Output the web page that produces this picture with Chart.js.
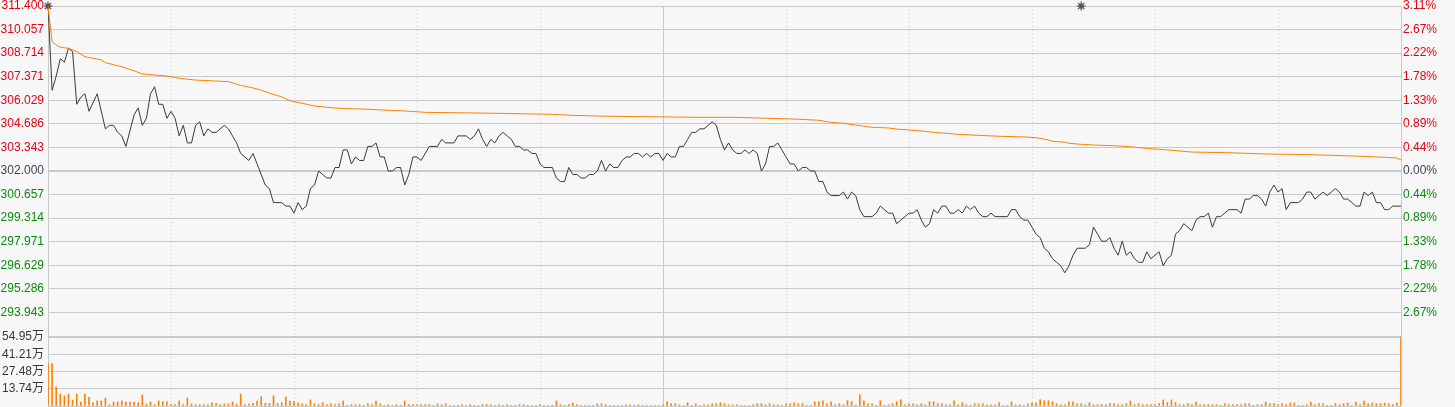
<!DOCTYPE html>
<html><head><meta charset="utf-8">
<script src="https://cdn.jsdelivr.net/npm/chart.js@4.4.1/dist/chart.umd.min.js"></script>
<style>
html,body{margin:0;padding:0;background:#f7f7f7;width:1455px;height:407px;overflow:hidden;}
#wrap{position:relative;width:1455px;height:407px;background:#f7f7f7;}
#pc{position:absolute;left:0;top:0;}
#vc{position:absolute;left:0;top:330px;}
</style></head><body>
<div id="wrap">
<canvas id="pc" width="1455" height="337"></canvas>
<canvas id="vc" width="1455" height="77"></canvas>
</div>
<script>
// ---- data ----
const priceTicks = [311.4, 310.057, 308.714, 307.371, 306.029, 304.686, 303.343, 302.0, 300.657, 299.314, 297.971, 296.629, 295.286, 293.943, 292.6];
const priceLabels = ['311.400','310.057','308.714','307.371','306.029','304.686','303.343','302.000','300.657','299.314','297.971','296.629','295.286','293.943',''];
const pctLabels = ['3.11%','2.67%','2.22%','1.78%','1.33%','0.89%','0.44%','0.00%','0.44%','0.89%','1.33%','1.78%','2.22%','2.67%',''];
const volTicks = [0, 13.74, 27.48, 41.21, 54.95];
const volLabels = ['', '13.74万', '27.48万', '41.21万', '54.95万'];
const timeTicks = [0, 30, 60, 90, 120, 150, 180, 210, 240, 270, 300, 330];

const priceMin = [0,1,2,3,4,5,6,7,8,9,10,12,14,15,16,17,18,19,21,22,23,24,25,26,27,28,29,30,31,32,33,34,35,36,37,38,39,40,41,43,44,45,46,47,48,49,50,51,52,53,54,55,57,58,59,60,61,62,63,64,65,66,67,68,69,70,71,72,73,74,75,76,77,78,79,80,81,82,83,84,85,86,87,88,89,90,91,92,93,95,96,97,99,100,102,103,104,105,106,107,108,109,110,111,112,113,114,115,116,117,118,119,120,121,123,124,125,126,127,128,129,130,131,132,133,134,135,136,137,138,139,140,141,142,143,144,145,146,147,148,149,150,151,152,153,154,155,156,157,158,159,160,161,162,163,164,165,166,167,168,169,170,171,172,173,174,175,176,177,178,179,180,181,182,183,184,185,186,187,188,189,190,191,193,194,195,196,197,198,199,201,202,203,204,205,206,207,208,209,210,211,212,213,214,215,216,217,218,219,220,221,222,223,224,225,226,227,228,229,230,231,234,235,236,237,238,239,240,241,242,243,244,245,246,247,248,249,250,251,253,254,255,256,257,258,259,260,261,262,263,264,265,266,267,268,269,270,271,272,273,274,275,276,277,278,279,280,281,282,283,284,285,286,287,288,290,291,292,293,294,295,296,297,298,299,300,301,302,303,305,306,307,308,309,310,311,312,313,314,315,316,317,318,319,320,321,322,323,324,325,326,327,328,330];
const priceVal = [311.4,306.6,307.4,308.4,308.2,309.0,308.8,305.8,306.2,306.4,305.4,306.4,304.4,304.6,304.6,304.2,304.0,303.4,305.2,305.6,304.6,305.0,306.4,306.8,305.8,305.8,305.0,305.4,305.0,304.0,304.6,303.6,303.6,304.6,304.8,304.0,304.4,304.2,304.2,304.6,304.4,304.0,303.6,303.0,302.8,302.6,303.0,302.4,301.8,301.2,301.0,300.2,300.2,300.0,300.0,299.6,300.2,299.8,300.0,301.0,301.2,302.0,301.8,301.6,301.6,302.2,302.2,303.2,303.2,302.4,302.8,302.6,302.6,303.4,303.4,303.6,302.8,302.8,302.0,302.0,302.2,302.2,301.2,301.8,302.8,302.8,302.6,303.0,303.4,303.4,303.8,303.6,303.6,304.0,304.0,303.8,304.0,304.4,303.8,303.4,303.8,303.6,304.0,304.2,304.0,303.8,303.4,303.4,303.2,303.2,303.0,303.0,302.4,302.2,302.2,301.6,301.4,301.4,302.2,301.8,301.8,301.6,301.6,301.8,301.8,302.0,302.6,302.0,302.4,302.2,302.2,302.6,302.8,302.8,303.0,303.0,302.8,303.0,302.8,303.0,303.0,302.6,303.0,302.8,302.8,303.4,303.4,303.8,304.2,304.2,304.4,304.4,304.6,304.8,304.6,303.8,303.2,303.6,303.2,303.0,303.0,303.2,303.0,303.2,303.0,302.0,302.4,303.4,303.4,303.6,303.2,302.8,302.4,302.4,302.0,302.2,302.2,302.0,302.0,301.4,301.4,300.8,300.6,300.6,300.8,300.4,300.8,300.6,299.8,299.4,299.4,299.6,300.0,299.8,299.6,299.6,299.0,299.2,299.4,299.6,299.6,299.8,299.2,298.8,299.0,299.8,299.6,300.0,300.0,299.6,299.6,299.8,299.6,300.0,299.8,300.0,299.6,299.4,299.4,299.6,299.4,299.4,299.8,299.8,299.4,299.2,299.2,298.8,298.4,298.2,297.6,297.4,297.0,296.8,296.6,296.2,296.6,297.2,297.6,297.6,297.8,298.8,298.4,298.0,298.0,298.2,297.6,297.2,298.0,297.2,297.4,297.0,296.8,296.8,297.4,297.0,297.2,297.4,296.6,297.0,297.2,298.4,298.6,299.0,298.8,298.6,299.2,299.4,299.4,299.6,298.8,299.4,299.4,299.6,299.8,299.8,299.6,300.4,300.4,300.6,300.6,300.4,300.0,300.8,301.2,300.8,301.0,299.8,300.2,300.2,300.4,300.8,300.8,300.4,300.6,300.8,300.6,300.8,301.0,300.8,300.4,300.4,300.2,300.0,300.0,300.8,300.6,300.8,300.2,300.2,299.8,299.8,300.0,300.0];

const avgMin = [0,1,2,3,5,7,9,13,14,18,21,23,29,32,36,44,47,50,52,54,57,59,62,65,68,71,77,81,87,92,109,123,128,136,151,157,167,176,183,188,191,194,197,199,201,205,207,210,214,216,219,222,227,232,238,241,244,245,248,249,252,255,260,264,267,273,279,288,297,308,319,326,329,330];
const avgVal = [311.40,309.37,309.18,309.05,308.99,308.80,308.51,308.33,308.17,307.94,307.71,307.53,307.41,307.28,307.18,307.09,306.88,306.73,306.61,306.43,306.23,306.00,305.86,305.70,305.63,305.57,305.53,305.48,305.42,305.34,305.29,305.23,305.17,305.12,305.08,305.06,305.06,305.00,304.95,304.89,304.77,304.72,304.62,304.55,304.49,304.45,304.39,304.34,304.26,304.20,304.15,304.09,304.03,303.98,303.94,303.90,303.77,303.69,303.64,303.58,303.52,303.48,303.44,303.38,303.31,303.20,303.08,303.04,302.97,302.93,302.85,302.78,302.74,302.63];

const volumes = [
33.7,33.7,15.1,9.5,8.0,9.5,4.8,9.5,3.2,9.5,
6.9,2.6,4.0,4.0,6.4,1.1,3.2,3.2,4.0,3.2,
3.2,3.2,2.6,8.8,1.6,3.2,1.1,4.0,3.5,3.5,
1.1,1.1,4.0,1.1,6.4,1.6,1.1,1.1,1.1,1.1,
2.6,2.1,1.1,1.6,1.6,3.2,1.6,9.5,1.1,1.6,
2.1,4.0,7.4,2.1,2.1,8.0,2.1,2.6,7.2,4.0,
3.6,2.6,1.8,1.1,4.8,1.8,1.1,2.6,1.1,1.8,
1.1,1.8,4.0,0.5,1.1,1.1,1.1,0.5,1.8,1.1,
4.0,1.8,0.5,1.1,0.5,1.1,0.5,4.0,1.1,1.1,
1.1,1.1,1.1,1.1,0.5,1.8,1.1,1.8,0.5,0.5,
0.5,1.1,0.5,1.1,0.5,0.5,1.1,1.1,1.1,0.5,
1.1,0.5,1.1,0.5,0.5,1.1,1.1,0.5,0.5,0.5,
1.1,0.5,0.3,0.5,4.0,1.1,0.5,1.1,2.3,1.1,
0.5,0.5,0.5,0.5,1.8,1.8,1.1,0.5,0.3,0.3,
0.3,1.0,1.0,0.3,1.0,0.3,0.3,0.3,0.3,0.3,
1.0,3.4,1.8,1.8,1.0,0.3,2.6,0.3,1.8,0.3,
1.0,1.0,1.8,1.8,2.6,1.8,1.0,1.0,1.0,0.3,
0.3,0.3,1.0,1.8,1.8,1.0,1.8,1.0,1.0,0.3,
1.8,1.8,2.6,1.8,1.8,0.3,0.3,3.4,3.4,4.2,
1.8,3.4,1.0,1.8,1.0,4.2,3.4,0.3,9.0,4.2,
1.8,1.8,0.3,4.2,0.3,1.0,1.8,3.4,5.0,1.0,
1.8,1.8,1.0,1.8,1.0,3.4,3.4,1.8,1.8,1.0,
1.0,4.2,1.0,2.6,1.0,0.3,1.8,1.8,1.8,1.0,
1.0,1.0,2.6,0.3,0.3,3.4,1.0,1.0,0.3,1.8,
2.6,2.6,5.0,4.2,4.2,3.4,1.8,1.0,1.0,3.4,
3.4,1.8,1.8,1.0,2.6,1.0,1.1,1.1,1.1,1.9,
1.9,1.1,1.1,1.9,4.0,1.1,1.9,1.1,1.1,1.1,
1.1,1.9,4.8,2.7,4.8,2.7,1.1,1.1,1.9,1.1,
3.2,1.1,1.1,1.1,1.1,1.1,0.5,1.9,1.1,1.1,
1.1,1.1,1.9,1.9,0.5,1.1,1.1,3.2,1.9,1.9,
1.1,1.9,1.1,2.4,2.4,0.5,0.5,1.1,3.2,1.1,
1.9,1.9,0.5,0.5,1.9,1.1,1.9,2.4,0.5,3.2,
1.1,4.0,1.9,2.4,1.9,1.9,2.4,1.9,1.1,2.4,
54.95];

const markerMin = [0, 252];
const markerPrice = 311.4;

// ---- style ----
const FONT = "'Liberation Sans', Arial, 'Noto Sans CJK SC', sans-serif";
const GRID = '#c9c9c9';
const RED = '#e60012';
const GREEN = '#0a8a0a';
const NEUTRAL = '#3c4650';
const ORANGE = '#ff8000';
const LINE = '#3a3a3a';

function xScale() {
  return {
    type: 'linear', min: 0, max: 330, offset: false,
    afterBuildTicks: s => { s.ticks = timeTicks.map(v => ({ value: v })); },
    ticks: { display: false },
    grid: { color: GRID, lineWidth: 1, drawTicks: false, offset: false },
    border: { display: false, dash: ctx => (ctx.tick && (ctx.tick.value === 0 || ctx.tick.value === 150 || ctx.tick.value === 330)) ? [] : [1, 3] },
    afterFit: s => { s.height = 0; }
  };
}
function tickColor(ctx) {
  const i = ctx.index;
  return i < 7 ? RED : (i === 7 ? NEUTRAL : GREEN);
}

new Chart(document.getElementById('pc'), {
  type: 'line',
  data: {
    datasets: [
      { label: '均价', data: avgMin.map((m, i) => ({ x: m, y: avgVal[i] })), borderColor: ORANGE, borderWidth: 1, pointRadius: 0, tension: 0, yAxisID: 'y' },
      { label: '价格', data: priceMin.map((m, i) => ({ x: m, y: priceVal[i] })), borderColor: LINE, borderWidth: 1, pointRadius: 0, tension: 0, yAxisID: 'y' },
      { label: '标记', data: markerMin.map(m => ({ x: m, y: markerPrice })), showLine: false, pointStyle: 'star', pointRadius: 4.5, borderColor: '#555', borderWidth: 1.2, yAxisID: 'y', clip: false },
      { label: '标记点', data: markerMin.map(m => ({ x: m, y: markerPrice })), showLine: false, pointStyle: 'circle', pointRadius: 2.6, backgroundColor: '#555', borderWidth: 0, yAxisID: 'y', clip: false }
    ]
  },
  options: {
    responsive: false, animation: false, events: [],
    layout: { padding: { top: 6, bottom: 1, left: 0, right: 0 }, autoPadding: false },
    plugins: { legend: { display: false }, tooltip: { enabled: false } },
    scales: {
      x: xScale(),
      y: {
        position: 'left', min: 292.6, max: 311.4,
        afterBuildTicks: s => { s.ticks = priceTicks.map(v => ({ value: v })); },
        ticks: { autoSkip: false, callback: (v, i) => priceLabels[i], color: tickColor, font: { family: FONT, size: 12 }, padding: 4 },
        grid: { color: GRID, drawTicks: false, lineWidth: ctx => ctx.index === 7 ? 2 : (ctx.index === 14 ? 0 : 1) },
        border: { display: true, color: GRID, width: 1 },
        afterFit: s => { s.width = 48; s.paddingTop = 0; s.paddingBottom = 0; }
      },
      yR: {
        position: 'right', min: 292.6, max: 311.4,
        afterBuildTicks: s => { s.ticks = priceTicks.map(v => ({ value: v })); },
        ticks: { autoSkip: false, callback: (v, i) => pctLabels[i], color: tickColor, font: { family: FONT, size: 12 }, padding: 2 },
        grid: { display: false, drawTicks: false },
        border: { display: true, color: GRID, width: 1 },
        afterFit: s => { s.width = 54; s.paddingTop = 0; s.paddingBottom = 0; }
      }
    }
  }
});

new Chart(document.getElementById('vc'), {
  type: 'bar',
  data: {
    datasets: [
      { label: '成交量', data: volumes.map((v, i) => ({ x: i, y: v })), backgroundColor: ORANGE, borderWidth: 0, barThickness: 1, grouped: false }
    ]
  },
  options: {
    responsive: false, animation: false, events: [],
    layout: { padding: { top: 7, bottom: 1, left: 0, right: 54 }, autoPadding: false },
    plugins: { legend: { display: false }, tooltip: { enabled: false } },
    scales: {
      x: xScale(),
      y: {
        position: 'left', min: 0, max: 54.95,
        afterBuildTicks: s => { s.ticks = volTicks.map(v => ({ value: v })); },
        ticks: { autoSkip: false, callback: (v, i) => volLabels[i], color: '#333a44', font: { family: FONT, size: 12 }, padding: 4 },
        grid: { color: GRID, drawTicks: false, lineWidth: ctx => ctx.index === 4 ? 2 : 1 },
        border: { display: true, color: GRID, width: 1 },
        afterFit: s => { s.width = 48; s.paddingTop = 0; s.paddingBottom = 0; }
      }
    }
  }
});
</script>
</body></html>
